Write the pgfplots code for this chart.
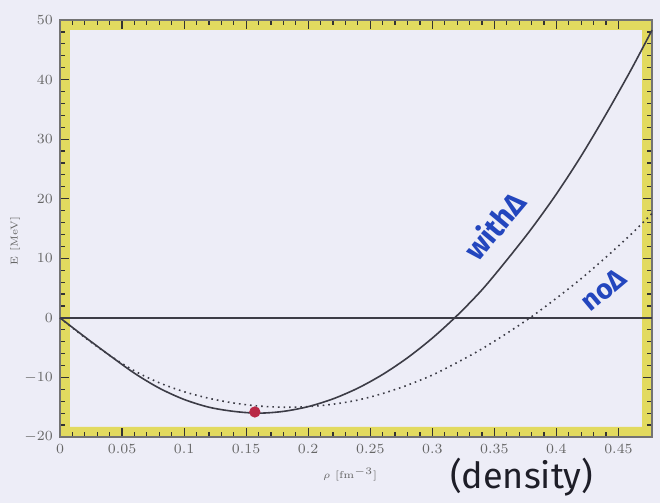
\documentclass[border=0pt]{standalone}
\usepackage{pgfplots}
\pgfplotsset{compat=1.18}
\usepackage{fontspec}
\newfontfamily\hand{Fira Sans}
\definecolor{bg}{RGB}{237,237,247}
\definecolor{hl}{RGB}{226,218,95}
\definecolor{curve}{RGB}{60,60,70}
\definecolor{ink}{RGB}{35,70,190}
\definecolor{pen}{RGB}{30,30,40}
\definecolor{dotred}{RGB}{185,40,70}
\pgfdeclarelayer{bglayer}
\pgfplotsset{
  layers/mine/.define layer set={bglayer,axis background,axis grid,axis ticks,axis lines,axis tick labels,pre main,main,axis descriptions,axis foreground}{},
}
\begin{document}
\begin{tikzpicture}
\begin{axis}[
  set layers=mine,
  scale only axis, width=296pt, height=208.5pt,
  xmin=0, xmax=0.477, ymin=-20, ymax=50,
  xtick={0,0.05,0.1,0.15,0.2,0.25,0.3,0.35,0.4,0.45},
  xticklabels={0,0.05,0.1,0.15,0.2,0.25,0.3,0.35,0.4,0.45},
  ytick={-20,-10,0,10,20,30,40,50},
  minor x tick num=4, minor y tick num=4,
  xtick align=inside, ytick align=inside,
  major tick length=4.5pt, minor tick length=2.5pt,
  xtick style={draw=black!80, line width=0.6pt},
  ytick style={draw=black!80, line width=0.6pt},
  minor tick style={draw=black!80, line width=0.5pt},
  axis line style={draw=black!55, line width=0.6pt},
  ticklabel style={font=\scriptsize, text=black!60},
  xlabel={$\rho$ [fm$^{-3}$]}, ylabel={E [MeV]},
  label style={font=\tiny, text=black!60},
  xlabel style={at={(axis description cs:0.49,-0.09)}, anchor=center},
  ylabel style={at={(axis description cs:-0.076,0.47)}, anchor=center},
  clip=false,
]
\addplot[curve, line width=1pt] coordinates {(0,0) (0.477,0)};
\addplot[curve, line width=0.8pt, smooth] coordinates {
(0,0) (0.02,-3.2) (0.04,-6.3) (0.06,-9.3) (0.08,-11.8) (0.10,-13.7)
(0.12,-15.0) (0.14,-15.7) (0.16,-16.0) (0.18,-15.7) (0.20,-14.9)
(0.22,-13.6) (0.24,-11.8) (0.26,-9.5) (0.28,-6.7) (0.30,-3.4)
(0.32,0.4) (0.34,4.7) (0.36,9.7) (0.38,15.0) (0.40,20.8) (0.42,27.2)
(0.44,34.2) (0.46,41.6) (0.477,48.3)};
\addplot[curve, line width=0.8pt, dotted, smooth] coordinates {
(0,0) (0.02,-3.3) (0.04,-6.3) (0.06,-8.9) (0.08,-10.9) (0.10,-12.4)
(0.12,-13.5) (0.14,-14.3) (0.16,-14.8) (0.18,-15.0) (0.20,-14.9)
(0.22,-14.5) (0.24,-13.8) (0.26,-12.7) (0.28,-11.3) (0.30,-9.6)
(0.32,-7.5) (0.34,-5.2) (0.36,-2.6) (0.38,0.2) (0.40,3.3) (0.42,6.6)
(0.44,10.2) (0.46,14.0) (0.477,17.5)};
\addplot[only marks, mark=*, mark size=2.6pt, color=dotred, fill=dotred] coordinates {(0.157,-15.8)};
\node[rotate=50, text=ink, font=\hand\bfseries\fontsize{15}{15}\selectfont] at (axis cs:0.350,15.5) {withΔ};
\node[rotate=40, text=ink, font=\hand\bfseries\fontsize{14}{14}\selectfont] at (axis cs:0.438,4.7) {noΔ};
\node[text=pen, font=\hand\fontsize{18}{18}\selectfont] at (axis cs:0.372,-26.7) {(density)};
\end{axis}
\begin{pgfonlayer}{bglayer}
\fill[bg] (-30pt,-33pt) rectangle (300pt,218.5pt);
\fill[hl, even odd rule] (0pt,0pt) rectangle (296pt,208.5pt) (5pt,5pt) rectangle (291pt,203.5pt);
\end{pgfonlayer}
\pgfresetboundingbox
\path (-30pt,-33pt) rectangle (300pt,218.5pt);
\end{tikzpicture}
\end{document}
